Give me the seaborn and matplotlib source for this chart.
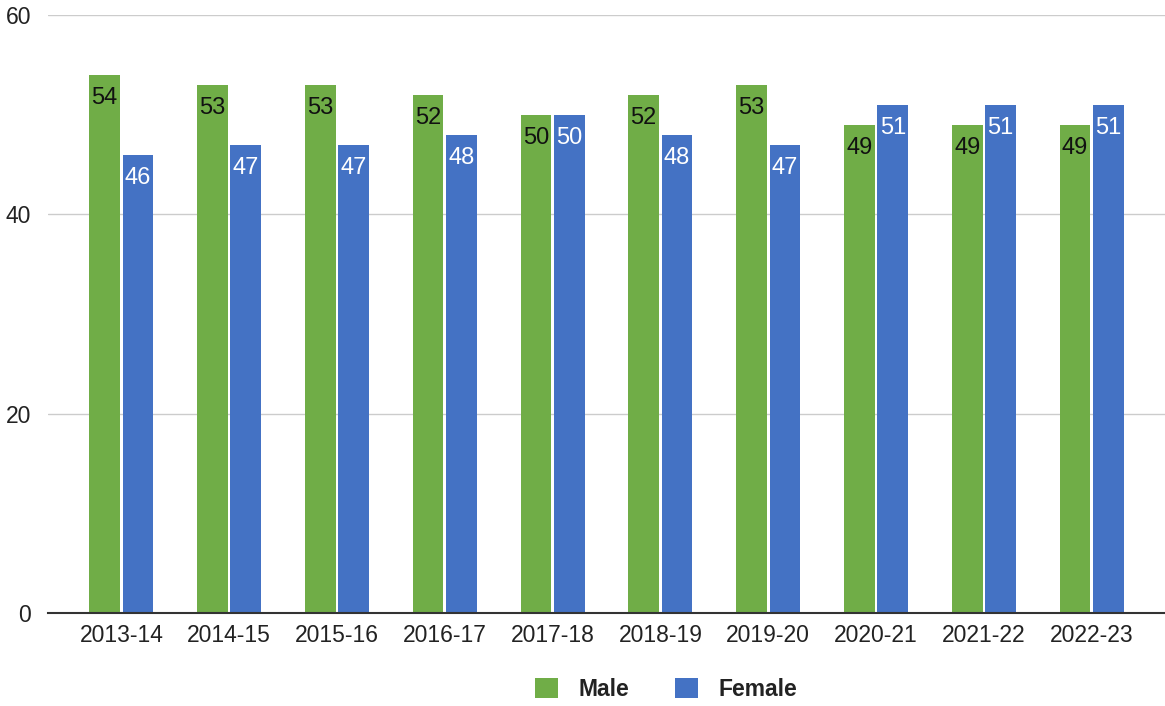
import matplotlib
matplotlib.use("Agg")
import matplotlib.pyplot as plt
import seaborn as sns
import pandas as pd
from matplotlib.patches import Patch

years = ["2013-14", "2014-15", "2015-16", "2016-17", "2017-18",
         "2018-19", "2019-20", "2020-21", "2021-22", "2022-23"]
male = [54, 53, 53, 52, 50, 52, 53, 49, 49, 49]
female = [46, 47, 47, 48, 50, 48, 47, 51, 51, 51]
series = ["Male", "Female"]
colors = ["#70AD47", "#4472C4"]
label_colors = ["#111111", "#ffffff"]

df = pd.DataFrame({
    "Year": years * 2,
    "Value": male + female,
    "Series": ["Male"] * len(years) + ["Female"] * len(years),
})

sns.set_theme(style="white")
plt.rcParams["font.family"] = ["Liberation Sans", "DejaVu Sans"]

fig = plt.figure(figsize=(11.65, 7.06), dpi=100)
ax = fig.add_axes([0.0412, 0.1317, 0.9588, 0.8471])

sns.barplot(data=df, x="Year", y="Value", hue="Series", hue_order=series,
            palette=colors, width=0.62, gap=0.08, ax=ax, legend=False,
            saturation=1, linewidth=0)

for cont, lc in zip(ax.containers, label_colors):
    for bar in cont:
        h = bar.get_height()
        ax.annotate(f"{h:.0f}", (bar.get_x() + bar.get_width() / 2, h),
                    xytext=(0, -17), textcoords="offset points",
                    ha="center", va="center", fontsize=17, color=lc)

ax.set_ylim(0, 60)
ax.set_xlim(-0.68, 9.68)
ax.set_yticks([0, 20, 40, 60])
ax.yaxis.grid(True, color="#cccccc", linewidth=1)
ax.set_axisbelow(True)
for s in ["top", "right", "left"]:
    ax.spines[s].set_visible(False)
ax.spines["bottom"].set_color("#333333")
ax.spines["bottom"].set_linewidth(1.5)
ax.set_xlabel("")
ax.set_ylabel("")
ax.tick_params(axis="both", length=0, labelsize=16.5, colors="#222222")
ax.tick_params(axis="x", pad=8)
ax.tick_params(axis="y", pad=12)

handles = [Patch(facecolor=c, edgecolor="none") for c in colors]
leg = fig.legend(handles, series, loc="center", bbox_to_anchor=(0.572, 0.024),
                 ncol=2, frameon=False, handlelength=1.0, handleheight=1.0,
                 columnspacing=2.0, handletextpad=0.9,
                 prop={"size": 16.5, "weight": "bold"})
for t in leg.get_texts():
    t.set_color("#222222")

fig.savefig("out.png", dpi=100)
